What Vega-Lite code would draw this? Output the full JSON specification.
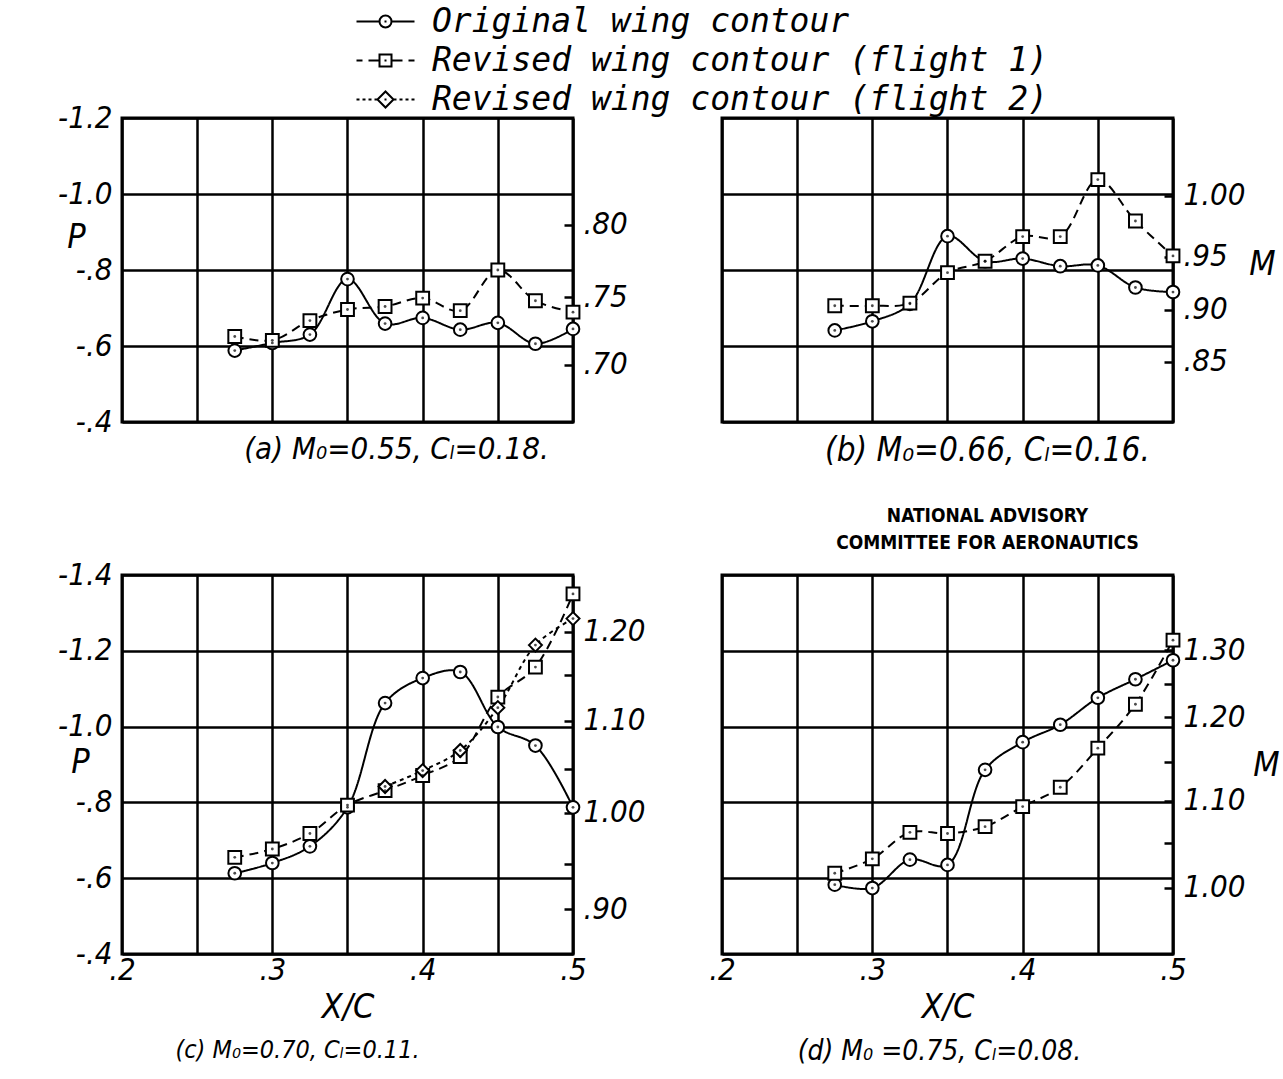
{
  "$schema": "https://vega.github.io/schema/vega-lite/v6.json",
  "background": "white",
  "padding": {"left": 56, "top": 3, "right": 0, "bottom": 0},
  "config": {
    "view": {"stroke": "black", "strokeWidth": 3},
    "axis": {
      "labelFont": "DejaVu Sans Condensed, Liberation Sans Narrow, DejaVu Sans, sans-serif",
      "labelFontStyle": "italic", "labelFontSize": 31, "labelColor": "black",
      "titleFont": "DejaVu Sans Condensed, Liberation Sans Narrow, DejaVu Sans, sans-serif",
      "titleFontStyle": "italic", "titleFontWeight": "normal", "titleFontSize": 34, "titleColor": "black",
      "gridColor": "black", "gridOpacity": 1, "gridWidth": 2.5,
      "domain": false, "ticks": false, "labelFlush": false, "labelOverlap": false, "labelBound": false
    },
    "title": {
      "font": "DejaVu Sans Condensed, Liberation Sans Narrow, DejaVu Sans, sans-serif",
      "fontStyle": "italic", "fontWeight": "normal", "fontSize": 31, "color": "black"
    }
  },
  "data": {"values": [
    {"panel":"a","series":"orig","x":0.275,"p":-0.588},{"panel":"a","series":"orig","x":0.3,"p":-0.608},{"panel":"a","series":"orig","x":0.325,"p":-0.63},{"panel":"a","series":"orig","x":0.35,"p":-0.776},{"panel":"a","series":"orig","x":0.375,"p":-0.659},{"panel":"a","series":"orig","x":0.4,"p":-0.674},{"panel":"a","series":"orig","x":0.425,"p":-0.643},{"panel":"a","series":"orig","x":0.45,"p":-0.661},{"panel":"a","series":"orig","x":0.475,"p":-0.606},{"panel":"a","series":"orig","x":0.5,"p":-0.645},
    {"panel":"a","series":"f1","x":0.275,"p":-0.625},{"panel":"a","series":"f1","x":0.3,"p":-0.615},{"panel":"a","series":"f1","x":0.325,"p":-0.667},{"panel":"a","series":"f1","x":0.35,"p":-0.696},{"panel":"a","series":"f1","x":0.375,"p":-0.704},{"panel":"a","series":"f1","x":0.4,"p":-0.726},{"panel":"a","series":"f1","x":0.425,"p":-0.693},{"panel":"a","series":"f1","x":0.45,"p":-0.8},{"panel":"a","series":"f1","x":0.475,"p":-0.719},{"panel":"a","series":"f1","x":0.5,"p":-0.689},
    {"panel":"b","series":"orig","x":0.275,"p":-0.641},{"panel":"b","series":"orig","x":0.3,"p":-0.665},{"panel":"b","series":"orig","x":0.325,"p":-0.711},{"panel":"b","series":"orig","x":0.35,"p":-0.889},{"panel":"b","series":"orig","x":0.375,"p":-0.823},{"panel":"b","series":"orig","x":0.4,"p":-0.83},{"panel":"b","series":"orig","x":0.425,"p":-0.81},{"panel":"b","series":"orig","x":0.45,"p":-0.812},{"panel":"b","series":"orig","x":0.475,"p":-0.754},{"panel":"b","series":"orig","x":0.5,"p":-0.742},
    {"panel":"b","series":"f1","x":0.275,"p":-0.706},{"panel":"b","series":"f1","x":0.3,"p":-0.706},{"panel":"b","series":"f1","x":0.325,"p":-0.713},{"panel":"b","series":"f1","x":0.35,"p":-0.793},{"panel":"b","series":"f1","x":0.375,"p":-0.823},{"panel":"b","series":"f1","x":0.4,"p":-0.888},{"panel":"b","series":"f1","x":0.425,"p":-0.888},{"panel":"b","series":"f1","x":0.45,"p":-1.038},{"panel":"b","series":"f1","x":0.475,"p":-0.929},{"panel":"b","series":"f1","x":0.5,"p":-0.837},
    {"panel":"c","series":"orig","x":0.275,"p":-0.613},{"panel":"c","series":"orig","x":0.3,"p":-0.64},{"panel":"c","series":"orig","x":0.325,"p":-0.684},{"panel":"c","series":"orig","x":0.35,"p":-0.787},{"panel":"c","series":"orig","x":0.375,"p":-1.062},{"panel":"c","series":"orig","x":0.4,"p":-1.128},{"panel":"c","series":"orig","x":0.425,"p":-1.144},{"panel":"c","series":"orig","x":0.45,"p":-0.999},{"panel":"c","series":"orig","x":0.475,"p":-0.95},{"panel":"c","series":"orig","x":0.5,"p":-0.787},
    {"panel":"c","series":"f1","x":0.275,"p":-0.655},{"panel":"c","series":"f1","x":0.3,"p":-0.677},{"panel":"c","series":"f1","x":0.325,"p":-0.718},{"panel":"c","series":"f1","x":0.35,"p":-0.793},{"panel":"c","series":"f1","x":0.375,"p":-0.831},{"panel":"c","series":"f1","x":0.4,"p":-0.871},{"panel":"c","series":"f1","x":0.425,"p":-0.921},{"panel":"c","series":"f1","x":0.45,"p":-1.078},{"panel":"c","series":"f1","x":0.475,"p":-1.157},{"panel":"c","series":"f1","x":0.5,"p":-1.35},
    {"panel":"c","series":"f2","x":0.375,"p":-0.842},{"panel":"c","series":"f2","x":0.4,"p":-0.884},{"panel":"c","series":"f2","x":0.425,"p":-0.937},{"panel":"c","series":"f2","x":0.45,"p":-1.05},{"panel":"c","series":"f2","x":0.475,"p":-1.215},{"panel":"c","series":"f2","x":0.5,"p":-1.285},
    {"panel":"d","series":"orig","x":0.275,"p":-0.583},{"panel":"d","series":"orig","x":0.3,"p":-0.574},{"panel":"d","series":"orig","x":0.325,"p":-0.649},{"panel":"d","series":"orig","x":0.35,"p":-0.635},{"panel":"d","series":"orig","x":0.375,"p":-0.886},{"panel":"d","series":"orig","x":0.4,"p":-0.959},{"panel":"d","series":"orig","x":0.425,"p":-1.005},{"panel":"d","series":"orig","x":0.45,"p":-1.076},{"panel":"d","series":"orig","x":0.475,"p":-1.125},{"panel":"d","series":"orig","x":0.5,"p":-1.175},
    {"panel":"d","series":"f1","x":0.275,"p":-0.613},{"panel":"d","series":"f1","x":0.3,"p":-0.651},{"panel":"d","series":"f1","x":0.325,"p":-0.721},{"panel":"d","series":"f1","x":0.35,"p":-0.718},{"panel":"d","series":"f1","x":0.375,"p":-0.736},{"panel":"d","series":"f1","x":0.4,"p":-0.789},{"panel":"d","series":"f1","x":0.425,"p":-0.84},{"panel":"d","series":"f1","x":0.45,"p":-0.943},{"panel":"d","series":"f1","x":0.475,"p":-1.059},{"panel":"d","series":"f1","x":0.5,"p":-1.228}
  ]},
  "bounds": "flush",
  "columns": 2,
  "spacing": {"row": 153, "column": 149},
  "concat": [
    {
      "width": 451, "height": 304,
      "title": {"text": "(a) M₀=0.55, Cₗ=0.18.", "orient": "bottom", "anchor": "middle", "dx": 49, "offset": -2},
      "transform": [{"filter": "datum.panel == 'a'"}],
      "layer": [
        {
          "mark": {"type": "line", "interpolate": "catmull-rom", "strokeWidth": 2, "color": "black"},
          "encoding": {
            "x": {"field": "x", "type": "quantitative", "scale": {"domain": [0.2, 0.5], "nice": false, "zero": false},
                  "axis": {"values": [0.2, 0.25, 0.3, 0.35, 0.4, 0.45, 0.5], "labels": false, "title": null, "grid": true}},
            "y": {"field": "p", "type": "quantitative", "scale": {"domain": [-1.2, -0.4], "reverse": true, "nice": false, "zero": false},
                  "axis": {"orient": "left", "values": [-1.2, -1, -0.8, -0.6, -0.4], "grid": true, "labelPadding": 10,
                           "labelExpr": "replace(datum.value <= -1 ? format(datum.value, '.1f') : replace(format(datum.value, '.1f'), '0.', '.'), '−', '-')",
                           "title": "P", "titleAngle": 0, "titleAlign": "center", "titleBaseline": "middle", "titleX": -46, "titleY": 119}},
            "detail": {"field": "series"},
            "strokeDash": {"field": "series", "type": "nominal", "scale": {"domain": ["orig", "f1", "f2"], "range": [[1, 0], [9, 6], [4, 4]]}, "legend": null}
          }
        },
        {
          "mark": {"type": "point", "filled": true, "fill": "white", "stroke": "black", "strokeWidth": 2, "opacity": 1},
          "encoding": {
            "x": {"field": "x", "type": "quantitative"},
            "y": {"field": "p", "type": "quantitative",
                  "axis": {"orient": "right", "values": [-0.919, -0.728, -0.551], "grid": false, "ticks": true, "tickSize": -9, "tickWidth": 2.5, "tickColor": "black",
                           "labelPadding": 19, "labelAlign": "left", "title": null,
                           "labelExpr": "datum.value == -0.919 ? '.80' : datum.value == -0.728 ? '.75' : '.70'"}},
            "shape": {"field": "series", "type": "nominal", "scale": {"domain": ["orig", "f1", "f2"], "range": ["circle", "square", "diamond"]}, "legend": null},
            "size": {"field": "series", "type": "nominal", "scale": {"domain": ["orig", "f1", "f2"], "range": [160, 169, 256]}, "legend": null}
          }
        },
        {
          "mark": {"type": "point", "filled": true, "color": "black", "size": 8},
          "encoding": {
            "x": {"field": "x", "type": "quantitative"},
            "y": {"field": "p", "type": "quantitative", "axis": null}
          }
        },
        {
          "transform": [{"filter": "false"}],
          "mark": {"type": "point", "filled": false, "color": "black", "strokeWidth": 2, "size": 400},
          "encoding": {
            "x": {"field": "x", "type": "quantitative"},
            "y": {"field": "p", "type": "quantitative", "axis": null},
            "shape": {"field": "series", "type": "nominal",
                      "scale": {"domain": ["orig", "f1", "f2"], "range": [
                        "M-2.9,0H-0.6M0.6,0H2.9M-0.6,0A0.6,0.6,0,1,0,0.6,0A0.6,0.6,0,1,0,-0.6,0M-0.1,0H0.1",
                        "M-2.9,0H-2.3M-1.7,0H-0.6M0.6,0H1.7M2.3,0H2.9M-0.6,-0.6H0.6V0.6H-0.6ZM-0.1,0H0.1",
                        "M-2.9,0H-2.6M-2.3,0H-2M-1.7,0H-1.4M-1.1,0H-0.85M0.85,0H1.1M1.4,0H1.7M2,0H2.3M2.6,0H2.9M-0.8,0L0,-0.8L0.8,0L0,0.8ZM-0.1,0H0.1"]},
                      "legend": {"orient": "none", "legendX": 247, "legendY": -113, "title": null, "padding": 0,
                                 "symbolSize": 400, "symbolStrokeWidth": 2, "symbolStrokeColor": "black", "symbolOpacity": 1,
                                 "labelFont": "DejaVu Sans Mono", "labelFontStyle": "italic", "labelFontSize": 33, "labelColor": "black",
                                 "labelOffset": 30, "rowPadding": 5, "labelLimit": 1000,
                                 "labelExpr": "datum.value == 'orig' ? 'Original wing contour' : datum.value == 'f1' ? 'Revised wing contour  (flight 1)' : 'Revised wing contour  (flight 2)'"}}
          }
        }
      ],
      "resolve": {"axis": {"y": "independent"}, "scale": {"shape": "independent"}}
    },
    {
      "width": 451, "height": 304,
      "title": {"text": "(b) M₀=0.66, Cₗ=0.16.", "subtitle": ["NATIONAL ADVISORY", "COMMITTEE FOR AERONAUTICS"],
                "orient": "bottom", "anchor": "middle", "dx": 40, "offset": 13, "fontSize": 33,
                "subtitleFont": "DejaVu Sans Condensed, Liberation Sans Narrow, DejaVu Sans, sans-serif", "subtitleFontWeight": "bold", "subtitleFontStyle": "normal",
                "subtitleFontSize": 19, "subtitleColor": "black", "subtitlePadding": 39, "subtitleLineHeight": 27},
      "transform": [{"filter": "datum.panel == 'b'"}],
      "layer": [
        {
          "mark": {"type": "line", "interpolate": "catmull-rom", "strokeWidth": 2, "color": "black"},
          "encoding": {
            "x": {"field": "x", "type": "quantitative", "scale": {"domain": [0.2, 0.5], "nice": false, "zero": false},
                  "axis": {"values": [0.2, 0.25, 0.3, 0.35, 0.4, 0.45, 0.5], "labels": false, "title": null, "grid": true}},
            "y": {"field": "p", "type": "quantitative", "scale": {"domain": [-1.2, -0.4], "reverse": true, "nice": false, "zero": false},
                  "axis": {"orient": "left", "values": [-1.2, -1, -0.8, -0.6, -0.4], "grid": true, "labels": false, "title": null}},
            "detail": {"field": "series"},
            "strokeDash": {"field": "series", "type": "nominal", "scale": {"domain": ["orig", "f1", "f2"], "range": [[1, 0], [9, 6], [4, 4]]}, "legend": null}
          }
        },
        {
          "mark": {"type": "point", "filled": true, "fill": "white", "stroke": "black", "strokeWidth": 2, "opacity": 1},
          "encoding": {
            "x": {"field": "x", "type": "quantitative"},
            "y": {"field": "p", "type": "quantitative",
                  "axis": {"orient": "right", "values": [-0.995, -0.835, -0.695, -0.559], "grid": false, "ticks": true, "tickSize": -9, "tickWidth": 2.5, "tickColor": "black",
                           "labelPadding": 19, "labelAlign": "left",
                           "labelExpr": "datum.value == -0.995 ? '1.00' : datum.value == -0.835 ? '.95' : datum.value == -0.695 ? '.90' : '.85'",
                           "title": "M", "titleAngle": 0, "titleAlign": "center", "titleBaseline": "middle", "titleX": 89, "titleY": 146}},
            "shape": {"field": "series", "type": "nominal", "scale": {"domain": ["orig", "f1", "f2"], "range": ["circle", "square", "diamond"]}, "legend": null},
            "size": {"field": "series", "type": "nominal", "scale": {"domain": ["orig", "f1", "f2"], "range": [160, 169, 256]}, "legend": null}
          }
        },
        {
          "mark": {"type": "point", "filled": true, "color": "black", "size": 8},
          "encoding": {
            "x": {"field": "x", "type": "quantitative"},
            "y": {"field": "p", "type": "quantitative", "axis": null}
          }
        }
      ],
      "resolve": {"axis": {"y": "independent"}}
    },
    {
      "width": 451, "height": 379,
      "title": {"text": "(c) M₀=0.70, Cₗ=0.11.", "orient": "bottom", "anchor": "middle", "dx": -50, "offset": 14, "fontSize": 25},
      "transform": [{"filter": "datum.panel == 'c'"}],
      "layer": [
        {
          "mark": {"type": "line", "interpolate": "catmull-rom", "strokeWidth": 2, "color": "black"},
          "encoding": {
            "x": {"field": "x", "type": "quantitative", "scale": {"domain": [0.2, 0.5], "nice": false, "zero": false},
                  "axis": {"values": [0.2, 0.25, 0.3, 0.35, 0.4, 0.45, 0.5], "grid": true, "labelPadding": 1,
                           "labelExpr": "abs(datum.value * 10 - round(datum.value * 10)) < 0.01 ? replace(format(datum.value, '.1f'), '0.', '.') : ''",
                           "title": "X/C", "titlePadding": 5}},
            "y": {"field": "p", "type": "quantitative", "scale": {"domain": [-1.4, -0.4], "reverse": true, "nice": false, "zero": false},
                  "axis": {"orient": "left", "values": [-1.4, -1.2, -1, -0.8, -0.6, -0.4], "grid": true, "labelPadding": 10,
                           "labelExpr": "replace(datum.value <= -1 ? format(datum.value, '.1f') : replace(format(datum.value, '.1f'), '0.', '.'), '−', '-')",
                           "title": "P", "titleAngle": 0, "titleAlign": "center", "titleBaseline": "middle", "titleX": -42, "titleY": 187}},
            "detail": {"field": "series"},
            "strokeDash": {"field": "series", "type": "nominal", "scale": {"domain": ["orig", "f1", "f2"], "range": [[1, 0], [9, 6], [4, 4]]}, "legend": null}
          }
        },
        {
          "mark": {"type": "point", "filled": true, "fill": "white", "stroke": "black", "strokeWidth": 2, "opacity": 1},
          "encoding": {
            "x": {"field": "x", "type": "quantitative"},
            "y": {"field": "p", "type": "quantitative",
                  "axis": {"orient": "right", "values": [-1.25, -1.135, -1.016, -0.889, -0.773, -0.637, -0.518], "grid": false, "ticks": true, "tickSize": -9, "tickWidth": 2.5, "tickColor": "black",
                           "labelPadding": 19, "labelAlign": "left", "title": null,
                           "labelExpr": "datum.value == -1.25 ? '1.20' : datum.value == -1.016 ? '1.10' : datum.value == -0.773 ? '1.00' : datum.value == -0.518 ? '.90' : ''"}},
            "shape": {"field": "series", "type": "nominal", "scale": {"domain": ["orig", "f1", "f2"], "range": ["circle", "square", "diamond"]}, "legend": null},
            "size": {"field": "series", "type": "nominal", "scale": {"domain": ["orig", "f1", "f2"], "range": [160, 169, 256]}, "legend": null}
          }
        },
        {
          "mark": {"type": "point", "filled": true, "color": "black", "size": 8},
          "encoding": {
            "x": {"field": "x", "type": "quantitative"},
            "y": {"field": "p", "type": "quantitative", "axis": null}
          }
        }
      ],
      "resolve": {"axis": {"y": "independent"}}
    },
    {
      "width": 451, "height": 379,
      "title": {"text": "(d) M₀ =0.75, Cₗ=0.08.", "orient": "bottom", "anchor": "middle", "dx": -8, "offset": 14, "fontSize": 28},
      "transform": [{"filter": "datum.panel == 'd'"}],
      "layer": [
        {
          "mark": {"type": "line", "interpolate": "catmull-rom", "strokeWidth": 2, "color": "black"},
          "encoding": {
            "x": {"field": "x", "type": "quantitative", "scale": {"domain": [0.2, 0.5], "nice": false, "zero": false},
                  "axis": {"values": [0.2, 0.25, 0.3, 0.35, 0.4, 0.45, 0.5], "grid": true, "labelPadding": 1,
                           "labelExpr": "abs(datum.value * 10 - round(datum.value * 10)) < 0.01 ? replace(format(datum.value, '.1f'), '0.', '.') : ''",
                           "title": "X/C", "titlePadding": 5}},
            "y": {"field": "p", "type": "quantitative", "scale": {"domain": [-1.4, -0.4], "reverse": true, "nice": false, "zero": false},
                  "axis": {"orient": "left", "values": [-1.4, -1.2, -1, -0.8, -0.6, -0.4], "grid": true, "labels": false, "title": null}},
            "detail": {"field": "series"},
            "strokeDash": {"field": "series", "type": "nominal", "scale": {"domain": ["orig", "f1", "f2"], "range": [[1, 0], [9, 6], [4, 4]]}, "legend": null}
          }
        },
        {
          "mark": {"type": "point", "filled": true, "fill": "white", "stroke": "black", "strokeWidth": 2, "opacity": 1},
          "encoding": {
            "x": {"field": "x", "type": "quantitative"},
            "y": {"field": "p", "type": "quantitative",
                  "axis": {"orient": "right", "values": [-1.202, -1.113, -1.025, -0.906, -0.805, -0.694, -0.575], "grid": false, "ticks": true, "tickSize": -9, "tickWidth": 2.5, "tickColor": "black",
                           "labelPadding": 19, "labelAlign": "left",
                           "labelExpr": "datum.value == -1.202 ? '1.30' : datum.value == -1.025 ? '1.20' : datum.value == -0.805 ? '1.10' : datum.value == -0.575 ? '1.00' : ''",
                           "title": "M", "titleAngle": 0, "titleAlign": "center", "titleBaseline": "middle", "titleX": 93, "titleY": 190}},
            "shape": {"field": "series", "type": "nominal", "scale": {"domain": ["orig", "f1", "f2"], "range": ["circle", "square", "diamond"]}, "legend": null},
            "size": {"field": "series", "type": "nominal", "scale": {"domain": ["orig", "f1", "f2"], "range": [160, 169, 256]}, "legend": null}
          }
        },
        {
          "mark": {"type": "point", "filled": true, "color": "black", "size": 8},
          "encoding": {
            "x": {"field": "x", "type": "quantitative"},
            "y": {"field": "p", "type": "quantitative", "axis": null}
          }
        }
      ],
      "resolve": {"axis": {"y": "independent"}}
    }
  ]
}
